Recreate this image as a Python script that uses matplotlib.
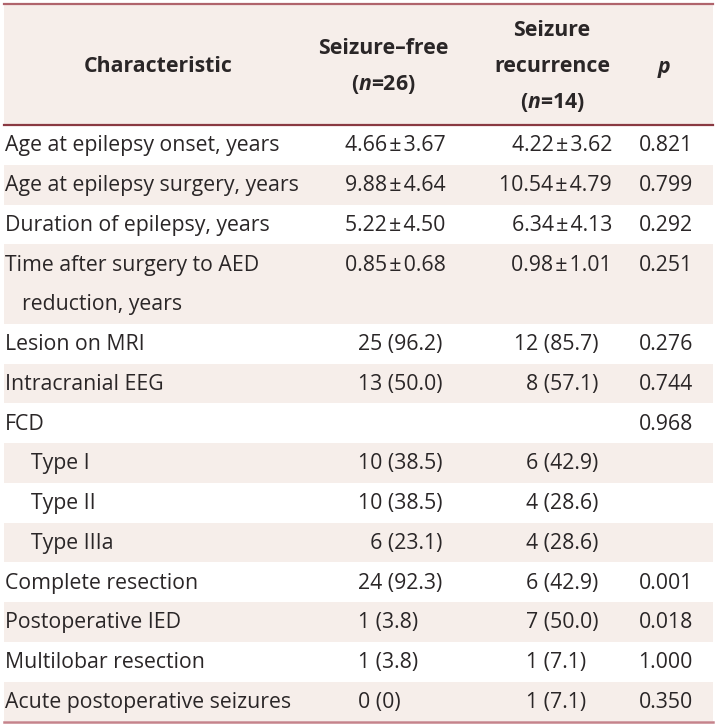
import matplotlib
matplotlib.use("Agg")
import matplotlib.pyplot as plt
from matplotlib.patches import Rectangle

plt.rcParams["font.family"] = ["Open Sans", "Noto Sans", "DejaVu Sans"]
plt.rcParams["mathtext.fontset"] = "custom"
plt.rcParams["mathtext.it"] = "Open Sans:bold:italic"
plt.rcParams["mathtext.rm"] = "Open Sans:bold"

FS = "\u2007"  # figure space used for digit padding
PM = "\u200a\u00b1\u200a"

# --- table content ---
characteristics = [
    "Age at epilepsy onset, years",
    "Age at epilepsy surgery, years",
    "Duration of epilepsy, years",
    "Time after surgery to AED\nreduction, years",
    "Lesion on MRI",
    "Intracranial EEG",
    "FCD",
    "Type I",
    "Type II",
    "Type IIIa",
    "Complete resection",
    "Postoperative IED",
    "Multilobar resection",
    "Acute postoperative seizures",
]
indented = [False] * 7 + [True] * 3 + [False] * 4
seizure_free = [
    "4.66" + PM + "3.67", "9.88" + PM + "4.64", "5.22" + PM + "4.50", "0.85" + PM + "0.68",
    "25 (96.2)", "13 (50.0)", "", "10 (38.5)", "10 (38.5)", FS + "6 (23.1)",
    "24 (92.3)", "1 (3.8)", "1 (3.8)", "0 (0)",
]
recurrence = [
    "4.22" + PM + "3.62", "10.54" + PM + "4.79", "6.34" + PM + "4.13", "0.98" + PM + "1.01",
    "12 (85.7)", "8 (57.1)", "", "6 (42.9)", "4 (28.6)", "4 (28.6)",
    "6 (42.9)", "7 (50.0)", "1 (7.1)" + FS, "1 (7.1)" + FS,
]
p_values = [
    "0.821", "0.799", "0.292", "0.251", "0.276", "0.744", "0.968",
    "", "", "", "0.001", "0.018", "1.000", "0.350",
]
is_mean_row = [True, True, True, True] + [False] * 10

W, H = 717, 728
fig = plt.figure(figsize=(W / 100, H / 100), dpi=100)
ax = fig.add_axes([0, 0, 1, 1])
ax.set_xlim(0, W)
ax.set_ylim(H, 0)
ax.axis("off")

shade = "#f6eeea"
x0, x1 = 4, 713
top, head_bot = 4, 125
unit = 39.75
fs = 15.3
ink = "#2a2627"

# header band
ax.add_patch(Rectangle((x0, top), x1 - x0, head_bot - top, color=shade, lw=0, zorder=0))
ax.plot([x0, x1], [top, top], color="#b0646c", lw=1.6, zorder=2)

hkw = dict(fontsize=fs, fontweight="bold", color=ink, ha="center", va="center")
ax.text(158, 67, "Characteristic", **hkw)
ax.text(383, 49, "Seizure\u2013free", **hkw)
ax.text(383, 85, r"($n$=26)", **hkw)
ax.text(552, 31, "Seizure", **hkw)
ax.text(552, 67, "recurrence", **hkw)
ax.text(552, 103, r"($n$=14)", **hkw)
ax.text(664, 67, "p", fontstyle="italic", **hkw)

# body rows
y = head_bot
tkw = dict(fontsize=fs, color=ink, va="center")
for i, name in enumerate(characteristics):
    lines = name.split("\n")
    h = unit * len(lines)
    if i % 2 == 1:
        ax.add_patch(Rectangle((x0, y), x1 - x0, h, color=shade, lw=0, zorder=0))
    yc = y + unit / 2 + 1
    for k, line in enumerate(lines):
        xl = 31 if indented[i] else (22 if k > 0 else 5)
        ax.text(xl, yc + k * unit, line, ha="left", **tkw)
    if is_mean_row[i]:
        ax.text(345, yc, seizure_free[i], ha="left", **tkw)
        ax.text(612, yc, recurrence[i], ha="right", **tkw)
    else:
        ax.text(358, yc, seizure_free[i], ha="left", **tkw)
        ax.text(598, yc, recurrence[i], ha="right", **tkw)
    ax.text(693, yc, p_values[i], ha="right", **tkw)
    y += h

ax.plot([x0, x1], [head_bot, head_bot], color="#8a3942", lw=1.6, zorder=2)
ax.plot([x0, x1], [y + 1, y + 1], color="#c5838b", lw=1.8, zorder=2)

fig.savefig("out.png", dpi=100, facecolor="white")
